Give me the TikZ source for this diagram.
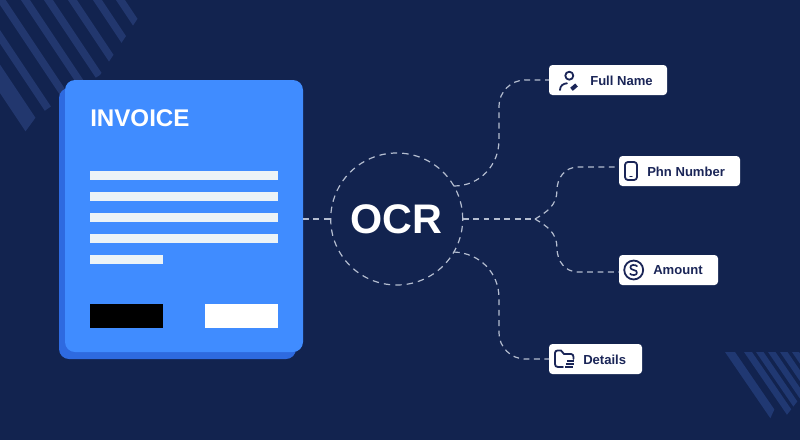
\documentclass[tikz,border=0pt]{standalone}
\usepackage{fontspec}
\setmainfont{Liberation Sans}
\definecolor{bgc}{HTML}{12234F}
\definecolor{stripe}{HTML}{22376E}
\definecolor{stripeb}{HTML}{203872}
\definecolor{cardfront}{HTML}{408CFF}
\definecolor{cardback}{HTML}{2E6AE0}
\definecolor{linec}{HTML}{ECF3F7}
\definecolor{ink}{HTML}{1A2557}
\definecolor{conn}{HTML}{B4BDD0}
\tikzset{
  px/.style={x=0.75pt,y=-0.75pt},
  lblbox/.style={fill=white,rounded corners=2.6pt,inner sep=0pt,outer sep=0pt,minimum height=22.5pt},
  lbltxt/.style={text=ink,font=\fontsize{9.8pt}{11pt}\bfseries,inner sep=0pt,anchor=west},
  dashline/.style={draw=conn,line width=0.9pt,dash pattern=on 4.4pt off 3.4pt},
  icon/.style={draw=ink,line width=1.35pt,line cap=round,line join=round},
  rowbar/.style={fill=linec,draw=none},
  stripeshape/.style={fill=stripe,draw=none},
  stripeshapeb/.style={fill=stripeb,draw=none}
}
\begin{document}
\begin{tikzpicture}[px]
\useasboundingbox (0,0) rectangle (800,440);
\fill[bgc] (0,0) rectangle (800,440);
% top-left stripes
\begin{scope}
\clip (0,0) -- (150,0) -- (100,75) -- (60,100) -- (36,117) -- (25,132) -- (0,132) -- cycle;
\foreach \r/\w in {125/9,102/9,77/9,53/9,30/9,5.7/9,-20/9,-43/19}{
  \fill[stripeshape] (\r,0) -- (\r-\w,0) -- ++(100,150) -- ({\r+100},150) -- cycle;
}
\end{scope}
% bottom-right stripes
\begin{scope}
\clip (725,352) -- (800,352) -- (800,398) -- (786,416) -- (775,408) -- (770,419) -- cycle;
\foreach \l/\w in {725/10,744/8,756/7.5,768/7.5,780/7.5,792/7}{
  \fill[stripeshapeb] (\l,352) -- (\l+\w,352) -- ++(50,73) -- ({\l+50},425) -- cycle;
}
\end{scope}
% invoice card
\fill[cardback,rounded corners=7.5pt] (59,88) rectangle (296,359);
\node[fill=cardfront,rounded corners=7.5pt,minimum width=178.5pt,minimum height=204pt,inner sep=0pt,outer sep=0pt] (card) at (184,216) {};
\node[text=white,font=\fontsize{18.1pt}{20pt}\bfseries,inner sep=0pt,anchor=base west] (invoice) at (90,126) {INVOICE};
\foreach \y in {171,192,213,234}{\fill[rowbar] (90,\y) rectangle (278,\y+9);}
\fill[rowbar] (90,255) rectangle (163,264);
\fill[black] (90,304) rectangle (163,328);
\fill[white] (205,304) rectangle (278,328);
% OCR circle
\node[circle,dashline,dash pattern=on 4.8pt off 3.8pt,minimum size=99pt,inner sep=0pt,outer sep=0pt,text=white,font=\fontsize{31pt}{33pt}\bfseries] (ocr) at (396.7,219) {OCR};
% label boxes
\node[lblbox,minimum width=88.5pt] (bname) at (608,80) {};
\node[lblbox,minimum width=90.75pt] (bphone) at (679.5,171) {};
\node[lblbox,minimum width=74.25pt] (bamount) at (668.5,270) {};
\node[lblbox,minimum width=69.75pt] (bdetails) at (595.5,359) {};
\node[lbltxt] (tname) at (590,80.5) {Full Name};
\node[lbltxt] (tphone) at (647,171.5) {Phn Number};
\node[lbltxt] (tamount) at (653,270.5) {Amount};
\node[lbltxt] (tdetails) at (583,359.5) {Details};
% connectors
\coordinate (fork) at (535,219);
\draw[dashline] (card.east |- ocr.west) -- (ocr.west);
\draw[dashline] (ocr.east) -- (fork);
\draw[dashline] (ocr.30) .. controls (480,186) and (499,165) .. (499,140) -- (499,106) .. controls (499,92) and (511,80) .. (525,80) -- (bname.west);
\draw[dashline] (ocr.-30) .. controls (480,253) and (499,273) .. (499,298) -- (499,333) .. controls (499,347) and (511,359) .. (525,359) -- (bdetails.west);
\draw[dashline] (fork) .. controls (547,212) and (557,205) .. (557,190) .. controls (557,178) and (565,167) .. (578,167) -- (bphone.west |- 0,167);
\draw[dashline] (fork) .. controls (547,226) and (557,233) .. (557,248) .. controls (557,261) and (565,272) .. (578,272) -- (bamount.west |- 0,272);
% person icon
\draw[icon] (569.3,75.7) circle (3pt);
\draw[icon] (560,90) .. controls (560,86) and (563,83.5) .. (567,83.3);
\draw[icon,line width=3pt,line cap=butt] (571.5,89.3) -- (576.5,85);
% phone icon
\draw[icon,rounded corners=2.2pt] (625,162) rectangle (637,180);
\draw[icon,line width=1.1pt] (630,176.7) -- (632,176.7);
% dollar icon
\draw[icon] (633.7,270) circle (7.1pt);
\draw[icon,line width=1.25pt] (637,266.2) .. controls (636.3,265.2) and (635,265) .. (633,265) .. controls (629.5,265) and (629.5,269.7) .. (633.7,270) .. controls (638,270.3) and (637.8,275) .. (634.3,275) .. controls (632,275) and (630.9,274.8) .. (630.2,273.8);
% folder icon
\draw[icon] (563,367) -- (558,367) .. controls (556,367) and (555,366) .. (555,364) -- (555,353) .. controls (555,351.5) and (556,350.5) .. (557.5,350.5) -- (561,350.5) -- (564,354) -- (571,354) .. controls (572.5,354) and (573.5,355) .. (573.5,357) -- (573.5,359);
\draw[ink,line width=1.4pt] (567,361.3) -- (574,361.3) (566,364) -- (574,364) (565,366.7) -- (573,366.7);
\end{tikzpicture}
\end{document}
